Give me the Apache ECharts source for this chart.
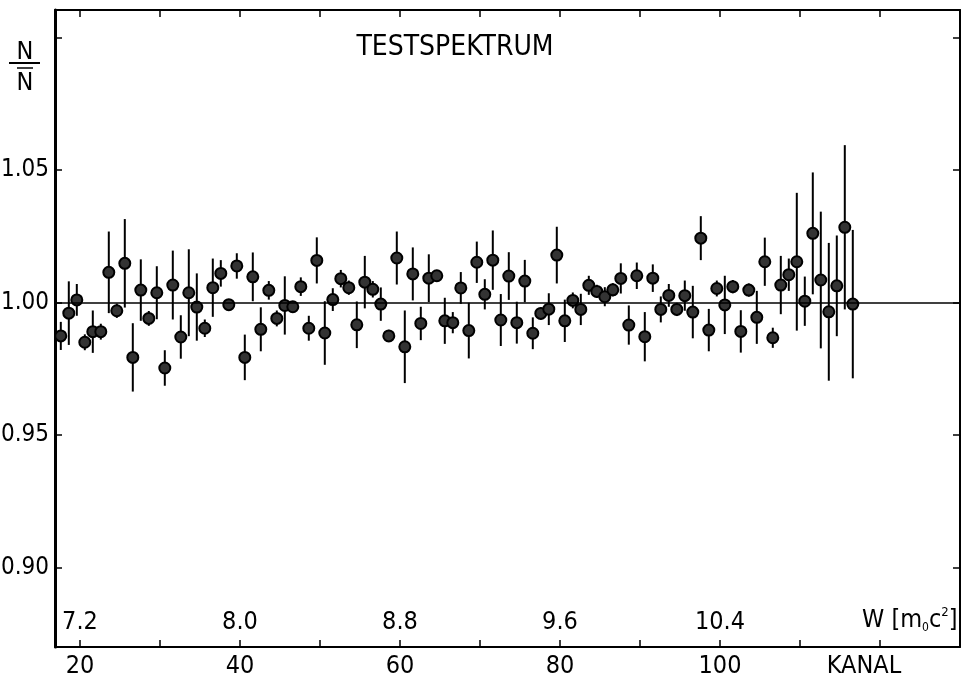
<!DOCTYPE html>
<html>
<head>
<meta charset="utf-8">
<script src="https://cdn.jsdelivr.net/npm/echarts@6/dist/echarts.min.js"></script>
<style>
html,body{margin:0;padding:0;background:#fff;}
#chart{width:961px;height:681px;}
</style>
</head>
<body>
<div id="chart"></div>
<script>
// ---- data ----
var channels = [
  17.6, 18.6, 19.6, 20.6, 21.6, 22.6, 23.6, 24.6, 25.6, 26.6,
  27.6, 28.6, 29.6, 30.6, 31.6, 32.6, 33.6, 34.6, 35.6, 36.6,
  37.6, 38.6, 39.6, 40.6, 41.6, 42.6, 43.6, 44.6, 45.6, 46.6,
  47.6, 48.6, 49.6, 50.6, 51.6, 52.6, 53.6, 54.6, 55.6, 56.6,
  57.6, 58.6, 59.6, 60.6, 61.6, 62.6, 63.6, 64.6, 65.6, 66.6,
  67.6, 68.6, 69.6, 70.6, 71.6, 72.6, 73.6, 74.6, 75.6, 76.6,
  77.6, 78.6, 79.6, 80.6, 81.6, 82.6, 83.6, 84.6, 85.6, 86.6,
  87.6, 88.6, 89.6, 90.6, 91.6, 92.6, 93.6, 94.6, 95.6, 96.6,
  97.6, 98.6, 99.6, 100.6, 101.6, 102.6, 103.6, 104.6, 105.6, 106.6,
  107.6, 108.6, 109.6, 110.6, 111.6, 112.6, 113.6, 114.6, 115.6, 116.6
];
var ratio = [
  0.9874, 0.9960, 1.0010, 0.9850, 0.9890, 0.9890, 1.0114, 0.9969, 1.0148, 0.9793,
  1.0047, 0.9940, 1.0037, 0.9753, 1.0066, 0.9870, 1.0037, 0.9983, 0.9903, 1.0056,
  1.0110, 0.9992, 1.0138, 0.9793, 1.0097, 0.9899, 1.0046, 0.9940, 0.9989, 0.9984,
  1.0060, 0.9903, 1.0159, 0.9885, 1.0011, 1.0090, 1.0056, 0.9916, 1.0077, 1.0050,
  0.9994, 0.9874, 1.0168, 0.9833, 1.0108, 0.9921, 1.0092, 1.0101, 0.9931, 0.9924,
  1.0055, 0.9894, 1.0152, 1.0031, 1.0160, 0.9934, 1.0100, 0.9924, 1.0081, 0.9884,
  0.9959, 0.9975, 1.0179, 0.9931, 1.0008, 0.9974, 1.0065, 1.0042, 1.0022, 1.0048,
  1.0091, 0.9915, 1.0101, 0.9871, 1.0092, 0.9974, 1.0027, 0.9974, 1.0026, 0.9964,
  1.0243, 0.9896, 1.0053, 0.9991, 1.0060, 0.9891, 1.0047, 0.9944, 1.0154, 0.9867,
  1.0066, 1.0105, 1.0154, 1.0005, 1.0261, 1.0085, 0.9965, 1.0063, 1.0284, 0.9994
];
var errors = [
  0.0053, 0.0120, 0.0060, 0.0030, 0.0080, 0.0030, 0.0154, 0.0027, 0.0167, 0.0129,
  0.0116, 0.0028, 0.0100, 0.0067, 0.0130, 0.0082, 0.0164, 0.0127, 0.0033, 0.0110,
  0.0050, 0.0017, 0.0048, 0.0086, 0.0092, 0.0083, 0.0035, 0.0030, 0.0110, 0.0020,
  0.0035, 0.0047, 0.0087, 0.0120, 0.0043, 0.0033, 0.0027, 0.0088, 0.0099, 0.0031,
  0.0063, 0.0023, 0.0100, 0.0137, 0.0100, 0.0063, 0.0090, 0.0022, 0.0087, 0.0040,
  0.0060, 0.0105, 0.0078, 0.0057, 0.0112, 0.0098, 0.0090, 0.0079, 0.0080, 0.0060,
  0.0023, 0.0060, 0.0107, 0.0080, 0.0030, 0.0059, 0.0036, 0.0025, 0.0036, 0.0025,
  0.0057, 0.0074, 0.0050, 0.0093, 0.0052, 0.0049, 0.0043, 0.0025, 0.0057, 0.0099,
  0.0083, 0.0080, 0.0030, 0.0110, 0.0025, 0.0080, 0.0025, 0.0100, 0.0091, 0.0038,
  0.0110, 0.0061, 0.0260, 0.0093, 0.0230, 0.0258, 0.0260, 0.0190, 0.0310, 0.0280
];
var channelTicks = [20, 30, 40, 50, 60, 70, 80, 90, 100, 110, 120];
var channelLabels = [20, 40, 60, 80, 100];
var energyLabels = ['7.2', '8.0', '8.8', '9.6', '10.4'];
var yTicks = [0.90, 0.95, 1.00, 1.05, 1.10];
var yLabels = [0.90, 0.95, 1.00, 1.05];
var referenceLevel = 1.00;

// ---- chart ----
var FONT = '"DejaVu Sans Condensed", "Liberation Sans Narrow", "DejaVu Sans", sans-serif';
var points = channels.map(function (c, i) { return [c, ratio[i], errors[i]]; });

var chart = echarts.init(document.getElementById('chart'), null, {renderer: 'canvas'});
var xMin = 16.875, xMax = 130;

function frameAxis(extra) {
  return Object.assign({
    type: 'value', min: xMin, max: xMax,
    splitLine: {show: false},
    axisLine: {show: true, lineStyle: {color: '#000', width: 2}},
    axisTick: {show: true, inside: true, length: 7, customValues: channelTicks, lineStyle: {color: '#000', width: 1.5}},
    axisLabel: {show: false}
  }, extra);
}

chart.setOption({
  animation: false,
  backgroundColor: '#fff',
  grid: {left: 55, right: 1, top: 10, bottom: 34, containLabel: false, outerBoundsMode: 'none'},
  xAxis: [
    frameAxis({
      position: 'bottom',
      axisLabel: {
        show: true, customValues: channelLabels, margin: 7,
        color: '#000', fontFamily: FONT, fontSize: 25
      }
    }),
    frameAxis({position: 'top'}),
    {
      type: 'value', min: xMin, max: xMax, position: 'bottom',
      splitLine: {show: false}, axisLine: {show: false}, axisTick: {show: false},
      axisLabel: {
        show: true, inside: true, margin: 12, customValues: channelLabels,
        color: '#000', fontFamily: FONT, fontSize: 25,
        formatter: function (v) {
          var k = channelLabels.indexOf(Math.round(v));
          return k >= 0 ? energyLabels[k] : '';
        }
      }
    }
  ],
  yAxis: [
    {
      type: 'value', min: 0.87, max: 1.1104, position: 'left',
      splitLine: {show: false},
      axisLine: {show: true, lineStyle: {color: '#000', width: 3}},
      axisTick: {show: true, inside: true, length: 7, customValues: yTicks, lineStyle: {color: '#000', width: 1.5}},
      axisLabel: {
        show: true, customValues: yLabels, margin: 6,
        color: '#000', fontFamily: FONT, fontSize: 24,
        formatter: function (v) { return v.toFixed(2); }
      }
    },
    {
      type: 'value', min: 0.87, max: 1.1104, position: 'right',
      splitLine: {show: false},
      axisLine: {show: true, lineStyle: {color: '#000', width: 2}},
      axisTick: {show: true, inside: true, length: 7, customValues: yTicks, lineStyle: {color: '#000', width: 1.5}},
      axisLabel: {show: false}
    }
  ],
  series: [
    {
      type: 'custom',
      xAxisIndex: 0, yAxisIndex: 0,
      data: points,
      encode: {x: 0, y: 1},
      renderItem: function (params, api) {
        var x = api.value(0), v = api.value(1), e = api.value(2);
        var top = api.coord([x, v + e]);
        var bot = api.coord([x, v - e]);
        return {
          type: 'line',
          shape: {x1: top[0], y1: top[1], x2: bot[0], y2: bot[1]},
          style: {stroke: '#000', lineWidth: 2}
        };
      },
      z: 2
    },
    {
      type: 'scatter',
      xAxisIndex: 0, yAxisIndex: 0,
      data: points.map(function (p) { return [p[0], p[1]]; }),
      symbol: 'circle', symbolSize: 11,
      itemStyle: {color: '#333', borderColor: '#000', borderWidth: 2, opacity: 1},
      z: 3,
      markLine: {
        silent: true, symbol: ['none', 'none'],
        label: {show: false},
        lineStyle: {color: '#000', width: 1.5, type: 'solid'},
        data: [{yAxis: referenceLevel}]
      }
    }
  ],
  graphic: [
    {type: 'text', style: {x: 455, y: 48, text: 'TESTSPEKTRUM', font: '28px ' + FONT, fill: '#000', textAlign: 'center', textVerticalAlign: 'middle'}},
    {type: 'text', style: {x: 25, y: 52, text: 'N', font: '25px ' + FONT, fill: '#000', textAlign: 'center', textVerticalAlign: 'middle'}},
    {type: 'line', shape: {x1: 9, y1: 63, x2: 40, y2: 63}, style: {stroke: '#000', lineWidth: 2}},
    {type: 'line', shape: {x1: 17, y1: 68, x2: 33, y2: 68}, style: {stroke: '#000', lineWidth: 1.5}},
    {type: 'text', style: {x: 25, y: 83, text: 'N', font: '25px ' + FONT, fill: '#000', textAlign: 'center', textVerticalAlign: 'middle'}},
    {type: 'text', style: {x: 864, y: 666, text: 'KANAL', font: '25px ' + FONT, fill: '#000', textAlign: 'center', textVerticalAlign: 'middle'}},
    {type: 'text', style: {
      x: 862, y: 620, text: 'W [m{sub|0}c{sup|2}]', font: '25px ' + FONT, fill: '#000',
      textAlign: 'left', textVerticalAlign: 'middle',
      rich: {
        sub: {fontSize: 12, fontFamily: FONT, fill: '#000', verticalAlign: 'bottom', padding: [12, 0, 0, 0]},
        sup: {fontSize: 13, fontFamily: FONT, fill: '#000', verticalAlign: 'top', padding: [0, 0, 14, 0]}
      }
    }}
  ]
});
</script>
</body>
</html>
